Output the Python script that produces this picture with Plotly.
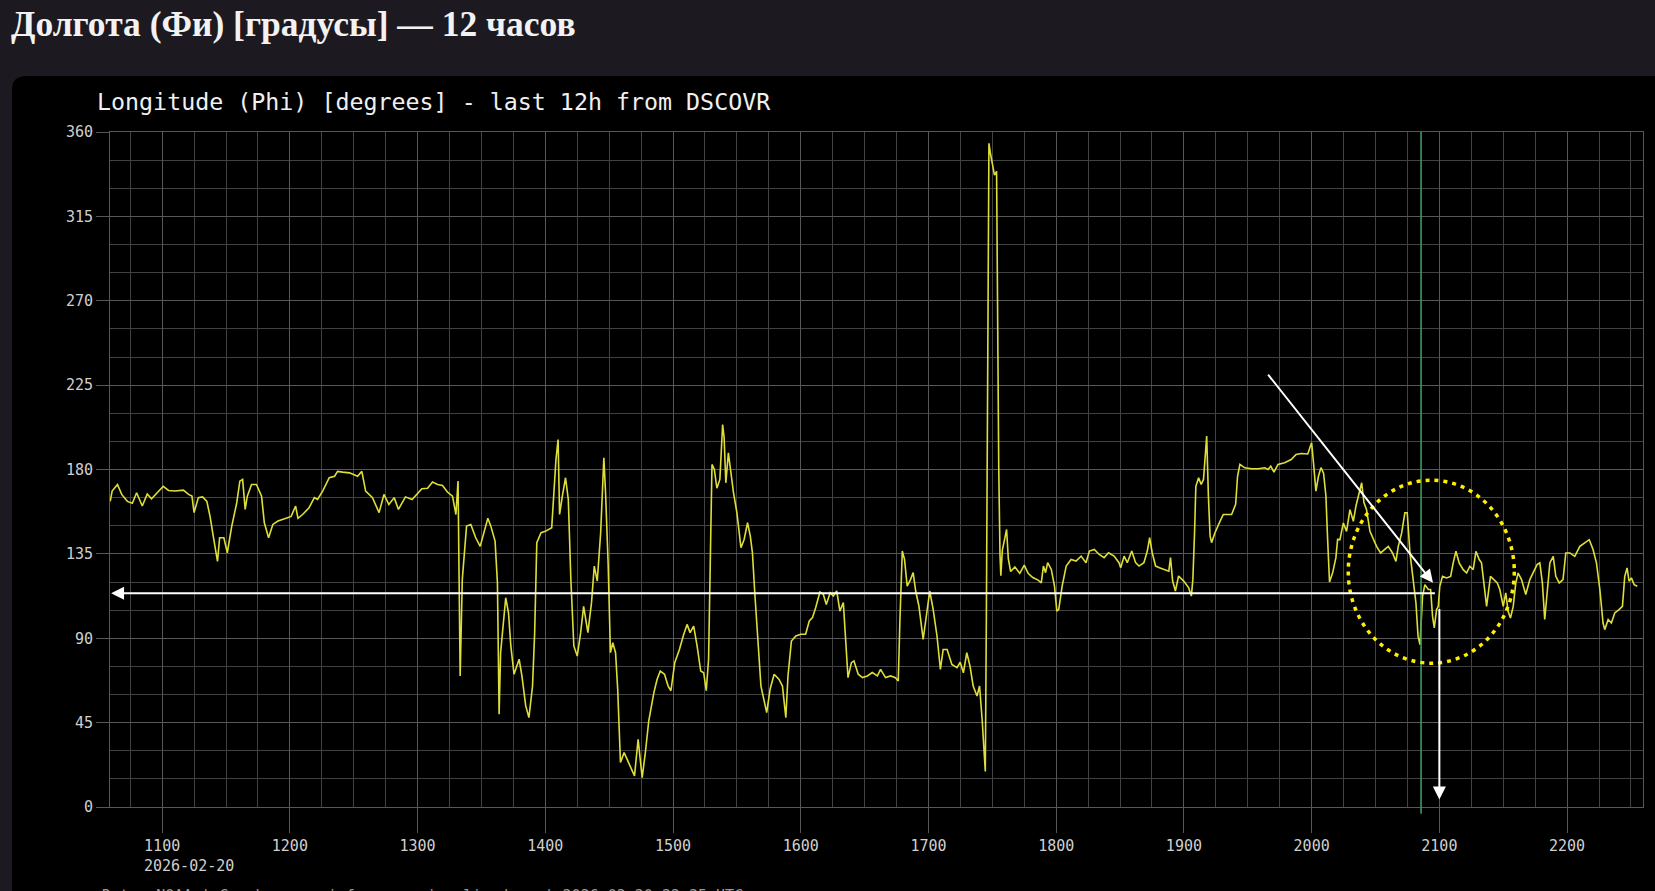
import plotly.graph_objects as go

DATE = "2026-02-20"

times = [
    "10:35:36", "10:36:30", "10:39:00", "10:41:00", "10:43:40", "10:46:00", "10:48:00", "10:50:40",
    "10:53:00", "10:55:00", "10:57:40", "11:00:30", "11:03:00", "11:06:00", "11:10:00", "11:12:24",
    "11:14:00", "11:15:00", "11:17:00", "11:19:00", "11:21:00", "11:22:30", "11:24:00", "11:26:00",
    "11:27:00", "11:29:00", "11:30:36", "11:32:42", "11:35:00", "11:36:30", "11:37:48", "11:39:00",
    "11:40:00", "11:42:00", "11:44:18", "11:46:42", "11:48:00", "11:50:00", "11:52:00", "11:54:24",
    "11:57:30", "12:00:36", "12:02:42", "12:03:48", "12:06:00", "12:09:00", "12:11:30", "12:13:00",
    "12:15:24", "12:18:30", "12:21:00", "12:22:24", "12:24:48", "12:28:00", "12:31:48", "12:33:48",
    "12:35:36", "12:38:48", "12:41:54", "12:44:12", "12:46:30", "12:49:00", "12:51:00", "12:54:18",
    "12:57:24",
    "12:59:00", "13:02:00", "13:04:42", "13:07:00", "13:09:24", "13:11:42", "13:14:00", "13:16:24",
    "13:18:00", "13:19:00", "13:19:30", "13:20:00", "13:21:00", "13:22:00", "13:23:00", "13:25:00",
    "13:27:18", "13:29:24", "13:31:00", "13:33:00", "13:34:24", "13:36:24", "13:37:30", "13:38:00",
    "13:38:18", "13:39:00", "13:40:00", "13:41:24", "13:42:42", "13:43:48", "13:45:18", "13:47:42",
    "13:49:00", "13:50:48", "13:52:18", "13:54:00", "13:55:00", "13:56:00", "13:58:00", "14:00:00",
    "14:03:00", "14:04:00", "14:05:00", "14:06:00", "14:06:42", "14:08:00", "14:09:30", "14:10:48",
    "14:12:00", "14:13:24", "14:15:00", "14:16:36", "14:18:00", "14:20:00", "14:21:42", "14:23:00",
    "14:24:24", "14:26:00", "14:27:30", "14:28:18", "14:29:30", "14:30:36", "14:31:42", "14:33:00",
    "14:34:00", "14:35:18", "14:37:00", "14:38:24", "14:40:00", "14:41:54", "14:43:36", "14:45:30",
    "14:47:00", "14:48:36", "14:51:00", "14:52:30", "14:54:00", "14:56:00", "14:57:42", "14:59:00",
    "15:00:48", "15:03:00", "15:05:00", "15:06:36", "15:08:00", "15:09:42", "15:11:18", "15:13:00",
    "15:14:24", "15:15:36", "15:16:42", "15:17:30", "15:18:18", "15:19:24", "15:20:36",
    "15:22:00", "15:23:18", "15:24:00", "15:24:48", "15:26:00", "15:27:12", "15:28:24", "15:30:00",
    "15:31:54", "15:33:24", "15:35:00", "15:36:18", "15:37:18", "15:38:24", "15:39:42", "15:41:18",
    "15:42:48", "15:44:00", "15:45:36", "15:47:30", "15:49:48", "15:51:24", "15:53:00", "15:54:00",
    "15:55:36", "15:57:42", "16:00:00", "16:02:18", "16:04:00", "16:05:30", "16:07:00", "16:09:00",
    "16:10:36", "16:12:00", "16:13:48", "16:15:18", "16:16:54", "16:18:24", "16:20:00", "16:21:00",
    "16:22:12", "16:23:48", "16:25:00", "16:27:00", "16:29:00", "16:31:18", "16:33:36", "16:36:00",
    "16:37:30", "16:39:48", "16:42:12", "16:44:30", "16:45:48", "16:46:36", "16:47:42", "16:48:45",
    "16:50:00", "16:51:36", "16:52:48", "16:54:00", "16:55:30", "16:57:30", "16:59:24", "17:00:36",
    "17:02:12", "17:04:00", "17:05:36", "17:06:54", "17:08:45", "17:11:00", "17:13:24", "17:14:54",
    "17:16:24", "17:18:00", "17:19:30", "17:21:00", "17:22:48", "17:24:00", "17:25:12", "17:26:00",
    "17:26:42", "17:27:12", "17:28:00", "17:28:24", "17:29:12", "17:30:00", "17:31:00", "17:32:00",
    "17:32:30", "17:33:00", "17:33:36", "17:34:00", "17:34:42", "17:35:24", "17:36:42", "17:37:30",
    "17:38:36", "17:40:36", "17:42:54", "17:45:00", "17:46:48", "17:49:00", "17:51:30", "17:53:00",
    "17:54:00", "17:55:00", "17:56:00", "17:57:42", "17:59:12", "18:00:18", "18:01:12", "18:02:48",
    "18:04:42", "18:07:00", "18:09:18", "18:11:42", "18:14:00", "18:15:36", "18:17:54", "18:20:12",
    "18:22:30", "18:24:36", "18:27:12", "18:29:30", "18:30:18", "18:31:54", "18:33:24", "18:35:30",
    "18:37:18", "18:38:54", "18:41:12", "18:42:48", "18:43:54", "18:45:06", "18:46:42", "18:48:30",
    "18:50:30", "18:52:54", "18:53:42", "18:54:42", "18:56:00", "18:57:30", "18:59:54", "19:02:12",
    "19:03:30", "19:04:12", "19:05:00", "19:05:36", "19:06:54", "19:08:06", "19:09:12", "19:10:00",
    "19:10:42", "19:11:30", "19:12:18", "19:13:00", "19:14:36", "19:17:00", "19:18:30", "19:20:00",
    "19:22:24", "19:24:18", "19:25:12", "19:26:18", "19:28:36", "19:31:48", "19:34:54", "19:38:00",
    "19:39:30", "19:40:48", "19:42:18", "19:44:12", "19:47:18", "19:50:24", "19:52:42", "19:55:00",
    "19:58:12", "19:59:24", "20:00:00", "20:01:00", "20:02:00", "20:03:12", "20:04:24", "20:05:36",
    "20:06:42", "20:07:30", "20:08:24", "20:09:54", "20:11:24", "20:12:12", "20:13:18", "20:14:54",
    "20:16:24", "20:18:00", "20:19:36", "20:20:48", "20:22:24", "20:23:30", "20:24:36", "20:25:48",
    "20:27:24", "20:29:00", "20:30:30", "20:32:24", "20:34:24", "20:36:00", "20:38:00", "20:39:36",
    "20:40:42", "20:42:18", "20:43:48", "20:44:54", "20:46:12", "20:47:42", "20:49:00", "20:50:00",
    "20:50:54", "20:52:06", "20:53:12", "20:54:48", "20:55:54", "20:56:48", "20:57:36", "20:58:42",
    "20:59:30", "21:00:12", "21:01:30", "21:03:24", "21:05:18", "21:06:30", "21:07:48", "21:09:18",
    "21:11:12", "21:12:48", "21:14:18", "21:15:54", "21:17:12", "21:18:42", "21:19:48", "21:20:54",
    "21:22:12", "21:24:00", "21:25:36", "21:27:12", "21:28:24", "21:30:00", "21:31:12", "21:32:18",
    "21:33:24", "21:34:42", "21:35:54", "21:37:00", "21:38:36", "21:40:36", "21:42:30", "21:44:00",
    "21:45:54", "21:47:12", "21:48:24", "21:49:30", "21:50:36", "21:51:54", "21:53:30", "21:54:42",
    "21:56:18", "21:58:06", "21:59:24", "22:01:18", "22:03:36", "22:06:00", "22:08:18", "22:10:24",
    "22:12:12", "22:13:48", "22:15:24", "22:16:54", "22:17:42", "22:19:18", "22:20:48", "22:22:24",
    "22:24:24", "22:26:00", "22:27:06", "22:28:12", "22:29:06", "22:30:12", "22:31:30", "22:33:00",
]

phi = [
    163, 168.5, 172, 166.7, 163, 162, 167.6, 160.5,
    167, 164.4, 167.6, 171, 168.8, 168.5, 169, 166.7,
    165.8, 157, 165, 165.4, 163, 155, 144.5, 131,
    143.6, 143.6, 135.6, 149.8, 162, 173.8, 174.7, 158.7,
    165.8, 172, 172, 165.8, 151.6, 143.6, 150.7, 152.5,
    153.7, 155, 160.5, 154, 156, 159.6, 165, 164,
    168.5, 175.6, 176.4, 179, 178.6, 178.2, 176.4, 179,
    168.5, 165, 157, 166.7, 161.3, 165, 158.7, 165.4,
    164,
    165.8, 169.7, 170, 173.3, 172, 171.5, 168, 165.8,
    156, 173.8, 121.4, 69.9, 121.4, 133.8, 149.8, 150.7,
    143.6, 139, 145.4, 154, 149.8, 141.8, 119.6, 73.4,
    49.5, 82.3, 93, 111.6, 103.6, 85.9, 70.8, 78.8,
    69.9, 53.9, 47.7, 64.5, 93, 141, 146.3, 147,
    148.9, 165.8, 185.3, 196, 156, 165.8, 175.6, 164,
    121.4, 85.9, 80.5, 93, 107, 93, 109, 128.5,
    120.5, 146.3, 186.2, 167.6, 130.3, 82.3, 87.6, 82.3,
    62.8, 23.7, 29, 25.5, 21, 16.6, 36.1, 15.7,
    29, 46, 61, 68, 72.5, 70.8, 64.5, 62,
    77, 84, 92, 97.4, 93, 96.5, 85.9, 72.5,
    71.6, 62, 78.8, 135.6, 182.7, 180, 170,
    174.7, 204, 197, 172.9, 188.9, 178.2, 167.6, 157,
    138.3, 142.7, 151.6, 144.5, 135.6, 114.3, 89.4, 64.5,
    56.6, 50.3, 62.8, 70.8, 68, 64.5, 47.7, 69.9,
    88.5, 91.2, 92.1, 92.1, 99.2, 101, 106.3, 114.6,
    113.4, 108, 114.3, 112.5, 115.2, 104.5, 109, 87.6,
    69, 77, 77.9, 70.8, 69, 69.9, 71.7, 69.9,
    73.4, 69, 69.9, 69, 67.2, 100, 136.5, 132,
    117.8, 121.4, 125, 115.2, 107.2, 89.4, 107.2, 115.2,
    105.4, 91.2, 73.4, 84, 84, 76, 74.3, 77.2,
    71.6, 82.3, 75.2, 64.5, 59.2, 64.5, 46.8, 31,
    19, 101.9, 270.7, 354, 348, 342.7, 337, 339,
    240, 182, 134.6, 123.4, 137, 141, 148, 132.4,
    125.6, 128, 124.6, 129, 124.6, 122.4, 121, 119.5,
    128.5, 125, 130.3, 126.7, 117.8, 104.5, 105.4, 117.8,
    128.5, 132, 131.2, 133.8, 130.3, 136.5, 137.4, 134.7,
    133, 135.6, 133.8, 130.3, 127.6, 133.8, 130.3, 136.5,
    130.3, 128.5, 130.3, 136.5, 143.6, 135.6, 128.5, 127.6,
    126.7, 125.8, 133, 120.5, 115.2, 123.2, 120.5, 117,
    112.5, 121.4, 146.3, 171, 175.6, 172, 174.7, 185.3,
    197.8, 165.8, 144.5, 141, 146.3, 152.5, 156, 156,
    156, 161.4, 176.4, 182.7, 180.9, 180.4, 180.4, 180.9,
    180, 181.8, 178.6, 182.7, 183.6, 185.3, 188, 188.5,
    188.3, 192.4, 194.2, 182, 168.5, 176.4, 181, 178,
    166, 143, 120, 125, 133, 142.7, 142.6, 151.5,
    147, 158.6, 152.4, 160.4, 167.5, 172.9, 162.2, 158.6,
    147, 142.6, 139, 135.5, 137.3, 139, 135.5, 131,
    139, 146.2, 156.9, 156.9, 135.5, 119.5, 108.8, 91,
    86.6, 112.4, 118.6, 116, 116, 101.7, 95.5, 105.3,
    107, 117.7, 123, 122.2, 123, 130.2, 136.4, 130.2,
    126.6, 124.8, 128.4, 126.6, 136.4, 132, 130.2, 119.5,
    107, 123, 121.3, 119.5, 116, 107, 114.2, 104.4,
    100.8, 107, 119.5, 124.8, 121.3, 113.3, 121.3, 124.8,
    129.3, 130.2, 119.5, 100, 116, 130.2, 133.7, 123,
    119.5, 121.3, 135.5, 135.5, 133.7, 139, 140.9, 142.6,
    137.3, 130.2, 116, 98.1, 94.6, 100, 98.1, 103.5,
    105.3, 107, 123, 127.5, 120.4, 122.2, 118.6, 117.7,
]

tick_hours = ["11:00", "12:00", "13:00", "14:00", "15:00", "16:00", "17:00",
              "18:00", "19:00", "20:00", "21:00", "22:00"]
tick_labels = ["1100", "1200", "1300", "1400", "1500", "1600", "1700",
               "1800", "1900", "2000", "2100", "2200"]
y_ticks = [0, 45, 90, 135, 180, 225, 270, 315, 360]

x_start = "10:35:30"
x_end = "22:35:40"
marker_time = "20:51:24"

page_title = "Долгота (Фи) [градусы] — 12 часов"
chart_title = "Longitude (Phi) [degrees] - last 12h from DSCOVR"
footer = "Data: NOAA | Graph: sunnyinfo.ru - visualized.ru | 2026-02-20 22:35 UTC"

def d(t):
    return f"{DATE} {t}"

W, H = 1655, 891
L, R, T, B = 110, 12, 132, 84
pw, ph = W - L - R, H - T - B

def px(xp):
    return (xp - L) / pw

def py(yp):
    return (H - B - yp) / ph

MONO = "DejaVu Sans Mono"
GRID = "#575757"
GRID_MINOR = "#424242"

fig = go.Figure()
fig.add_trace(go.Scatter(
    x=[d(t) for t in times], y=phi, mode="lines",
    line=dict(color="#dede3a", width=1.6), hoverinfo="skip", showlegend=False,
))

# black panel with rounded corner
x0p, y0p = px(12), py(76)
rx, ry = 14 / pw, 14 / ph
panel = (f"M {x0p},{py(1000)} L {x0p},{y0p - ry} Q {x0p},{y0p} {x0p + rx},{y0p} "
         f"L {px(1700)},{y0p} L {px(1700)},{py(1000)} Z")
fig.add_shape(type="path", path=panel, xref="paper", yref="paper",
              fillcolor="#000000", line=dict(width=0), layer="below")

# green marker line
fig.add_shape(type="line", x0=d(marker_time), x1=d(marker_time), xref="x",
              y0=-0.01, y1=1, yref="paper", line=dict(color="#3e9a5c", width=1.6))

# dotted circle
fig.add_shape(type="circle", xref="x", yref="y",
              x0=d("20:17:12"), x1=d("21:35:12"), y0=76.7, y1=174.3,
              line=dict(color="#ffee00", width=3.5, dash="4px,5px"))

arrow = dict(showarrow=True, arrowhead=2, arrowsize=1.3, arrowwidth=2,
             arrowcolor="#ffffff", text="", axref="x", ayref="y", xref="x", yref="y", standoff=0)
fig.add_annotation(x=d("10:36:00"), y=114, ax=d("20:58:36"), ay=114, **arrow)
fig.add_annotation(x=d("20:57:00"), y=119.6, ax=d("19:39:00"), ay=231.4, **arrow)
fig.add_annotation(x=d("21:00:00"), y=4.0, ax=d("21:00:00"), ay=106.4, **arrow)

# titles and texts
fig.add_annotation(text=f"<b>{page_title}</b>", xref="paper", yref="paper",
                   x=px(9), y=py(24), xanchor="left", yanchor="middle", showarrow=False,
                   font=dict(family="Liberation Serif", size=35.5, color="#f2f2f2"))
fig.add_annotation(text=chart_title, xref="paper", yref="paper",
                   x=px(95), y=py(102), xanchor="left", yanchor="middle", showarrow=False,
                   font=dict(family=MONO, size=23.3, color="#f0f0f0"))
fig.add_annotation(text=DATE, xref="x", yref="paper", x=d(tick_hours[0]), y=py(866),
                   xanchor="left", yanchor="middle", xshift=-20, showarrow=False,
                   font=dict(family=MONO, size=15, color="#cfcfcf"))
fig.add_annotation(text=footer, xref="paper", yref="paper", x=px(100), y=py(896),
                   xanchor="left", yanchor="middle", showarrow=False,
                   font=dict(family=MONO, size=15, color="#9a9a9a"))

fig.update_layout(
    width=W, height=H, margin=dict(l=L, r=R, t=T, b=B),
    paper_bgcolor="#1d1920", plot_bgcolor="#000000",
    xaxis=dict(
        type="date", range=[d(x_start), d(x_end)],
        tickmode="array", tickvals=[d(t) for t in tick_hours], ticktext=tick_labels,
        ticks="outside", ticklen=25, tickcolor=GRID, tickwidth=1,
        showgrid=True, gridcolor=GRID, gridwidth=1,
        minor=dict(dtick=900000, tick0=d("11:00"), showgrid=True, gridcolor=GRID_MINOR, ticks=""),
        showline=True, linecolor=GRID, mirror=True, zeroline=False,
        tickfont=dict(family=MONO, size=15, color="#cfcfcf"),
    ),
    yaxis=dict(
        range=[0, 360], tickmode="array", tickvals=y_ticks,
        ticks="outside", ticklen=13, tickcolor=GRID, tickwidth=1,
        showgrid=True, gridcolor=GRID, gridwidth=1,
        minor=dict(dtick=15, tick0=0, showgrid=True, gridcolor=GRID_MINOR, ticks=""),
        showline=True, linecolor=GRID, mirror=True, zeroline=False,
        tickfont=dict(family=MONO, size=15, color="#cfcfcf"),
    ),
)

fig.write_html(
    "out.html",
    config={"displayModeBar": False},
    post_script="document.body.style.margin='0';document.body.style.overflow='hidden';",
)
